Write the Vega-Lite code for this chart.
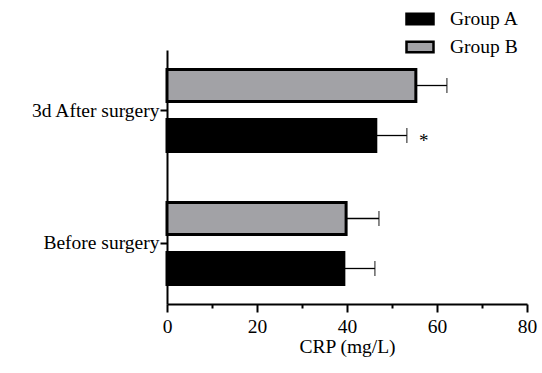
{
  "$schema": "https://vega.github.io/schema/vega-lite/v6.json",
  "width": 360,
  "height": 254,
  "autosize": "none",
  "padding": {"left": 167, "top": 50, "right": 15, "bottom": 69},
  "config": {
    "font": "Liberation Serif",
    "view": {"stroke": null},
    "axis": {"domainColor": "black", "tickColor": "black", "labelColor": "black", "titleColor": "black", "grid": false, "labelFont": "Liberation Serif", "titleFont": "Liberation Serif"},
    "axisX": {
      "values": [0, 4, 8, 12, 16, 20, 24, 28, 32, 36, 40, 44, 48, 52, 56, 60, 64, 68, 72, 76, 80],
      "labelExpr": "datum.value % 20 === 0 ? datum.label : ''",
      "tickSize": {"condition": {"test": "datum.value % 20 === 0", "value": 8}, "value": 4},
      "tickWidth": 2, "domainWidth": 2, "labelFontSize": 19.5, "titleFontSize": 19.5, "titleFontWeight": "normal", "labelPadding": 5, "titlePadding": 2, "labelOverlap": false, "labelFlush": false
    },
    "legend": {"labelFont": "Liberation Serif"},
    "text": {"font": "Liberation Serif"}
  },
  "data": {
    "values": [
      {"time": "3d After surgery", "group": "Group B", "mean": 55.3, "upper": 62.2, "sig": ""},
      {"time": "3d After surgery", "group": "Group A", "mean": 46.4, "upper": 53.3, "sig": "*"},
      {"time": "Before surgery", "group": "Group B", "mean": 39.8, "upper": 47.1, "sig": ""},
      {"time": "Before surgery", "group": "Group A", "mean": 39.3, "upper": 46.2, "sig": ""}
    ]
  },
  "encoding": {
    "y": {
      "field": "time", "type": "nominal",
      "scale": {"domain": ["3d After surgery", "Before surgery"], "paddingInner": 0.248, "paddingOuter": 0.079},
      "axis": {"title": null, "tickSize": 7, "tickWidth": 2, "domainWidth": 2, "labelFontSize": 19.5, "labelPadding": 1}
    },
    "yOffset": {
      "field": "group", "type": "nominal",
      "scale": {"domain": ["Group B", "Group A"], "paddingInner": 0.36, "paddingOuter": 0.18}
    }
  },
  "layer": [
    {
      "mark": {"type": "rule", "strokeWidth": 1.3, "color": "black"},
      "encoding": {
        "x": {"field": "mean", "type": "quantitative", "scale": {"domain": [0, 80]}, "title": "CRP (mg/L)"},
        "x2": {"field": "upper"}
      }
    },
    {
      "mark": {"type": "tick", "thickness": 1.3, "size": 15, "color": "black"},
      "encoding": {
        "x": {"field": "upper", "type": "quantitative", "title": "CRP (mg/L)"}
      }
    },
    {
      "mark": {"type": "bar", "stroke": "black", "strokeWidth": 3},
      "encoding": {
        "x": {"field": "mean", "type": "quantitative", "title": "CRP (mg/L)"},
        "fill": {
          "field": "group", "type": "nominal",
          "scale": {"domain": ["Group A", "Group B"], "range": ["black", "#a2a2a6"]},
          "legend": {"orient": "none", "legendX": 238, "legendY": -46, "title": null, "symbolType": "M-1,-0.38H1V0.38H-1Z", "symbolSize": 729, "symbolStrokeColor": "black", "symbolStrokeWidth": 2.5, "labelFont": "Liberation Serif", "labelFontSize": 19.5, "labelOffset": 15, "rowPadding": 2, "labelColor": "black"}
        }
      }
    },
    {
      "mark": {"type": "text", "dx": 17, "dy": 5, "fontSize": 19, "color": "black", "font": "Liberation Serif"},
      "encoding": {
        "x": {"field": "upper", "type": "quantitative", "title": "CRP (mg/L)"},
        "text": {"field": "sig"}
      }
    }
  ]
}
